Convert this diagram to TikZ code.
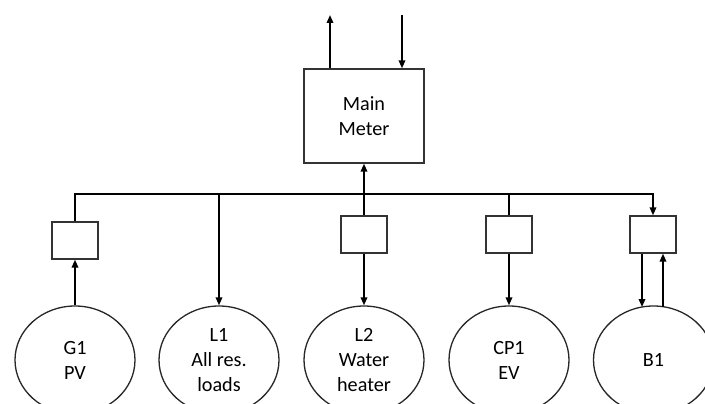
\documentclass[tikz,border=0pt]{standalone}
\usepackage{fontspec}
\setmainfont{Carlito}
\usetikzlibrary{arrows.meta,shapes.geometric}
\begin{document}
\begin{tikzpicture}[x=1pt,y=-1pt,
 every node/.style={font=\fontsize{20.2}{25}\selectfont, text=black},
 line/.style={draw=black, line width=1.8pt, line join=miter},
 arr/.style={line, -{Triangle[length=8pt,width=6.5pt]}},
 meterbox/.style={draw=black!80, line width=1.3pt, rectangle, inner sep=0pt, minimum width=46pt, minimum height=37pt},
 devellipse/.style={draw=black!85, line width=1.3pt, ellipse, inner sep=0pt, minimum width=120pt, minimum height=108pt, align=center}]
\useasboundingbox (0,0) rectangle (705,404);
% main meter
\node[meterbox, minimum width=120pt, minimum height=94pt, align=center] (mm) at (364,116) {Main\\Meter};
\coordinate (out) at (330,15);
\coordinate (in) at (402,15);
\draw[arr] (mm.north -| out) -- (out);
\draw[arr] (in) -- (mm.north -| in);
% boxes
\node[meterbox] (g1box) at (75,240.5) {};
\node[meterbox] (l2box) at (364,234.5) {};
\node[meterbox] (cp1box) at (509,234.5) {};
\node[meterbox] (b1box) at (653,234.5) {};
% ellipses
\node[devellipse] (g1) at (75,360) {G1\\PV};
\node[devellipse] (l1) at (219,360) {L1\\All res.\\loads};
\node[devellipse] (l2) at (364,360) {L2\\Water\\heater};
\node[devellipse] (cp1) at (509,360) {CP1\\EV};
\node[devellipse] (b1) at (653.5,360) {B1};
% bus
\coordinate (bus) at (0,194);
\draw[arr] (g1box.north) -- (g1box.north |- bus) -- (b1box.north |- bus) -- (b1box.north);
\draw[arr] (mm.south |- bus) -- (mm.south);
\draw[arr] (l1.north |- bus) -- (l1.north);
\draw[line] (l2box.north |- bus) -- (l2box.north);
\draw[arr] (l2box.south) -- (l2.north);
\draw[line] (cp1box.north |- bus) -- (cp1box.north);
\draw[arr] (cp1box.south) -- (cp1.north);
\draw[arr] (g1.north) -- (g1box.south);
\coordinate (bdn) at (642,307);
\coordinate (bup) at (663,307);
\draw[arr] (b1box.south -| bdn) -- (bdn);
\draw[arr] (bup) -- (b1box.south -| bup);
\end{tikzpicture}
\end{document}
